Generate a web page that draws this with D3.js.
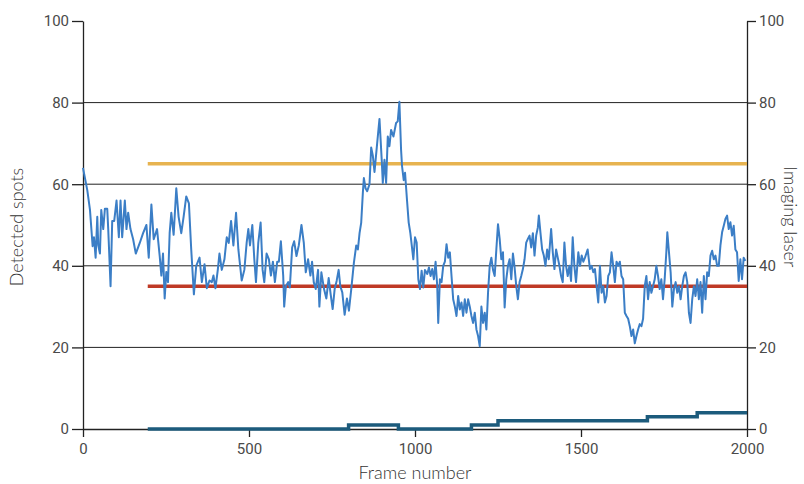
<!DOCTYPE html>
<html>
<head>
<meta charset="utf-8">
<script src="https://cdn.jsdelivr.net/npm/d3@7"></script>
<style>
  body { margin: 0; background: #fff; }
  svg { display: block; }
</style>
</head>
<body>
<div id="chart"></div>
<script>
// Frame numbers and detected spot counts
const frames = [0,13,21,29,33,38,43,46,51,55,61,66,73,76,83,88,94,101,108,113,118,126,131,136,143,151,159,171,181,191,198,206,213,223,231,236,241,246,251,256,261,266,273,281,288,296,303,311,319,326,334,341,351,358,366,373,381,388,393,399,406,411,418,426,433,439,446,453,461,468,478,486,493,498,503,510,516,521,528,535,541,546,553,560,566,572,578,585,590,596,603,606,611,618,623,630,636,643,650,658,665,671,678,685,690,695,701,708,712,718,726,733,740,746,752,758,764,770,775,781,788,795,801,808,816,823,828,833,838,843,846,851,856,863,868,873,878,886,893,900,903,908,913,918,923,928,935,943,948,953,958,961,966,970,976,981,986,995,1000,1005,1010,1015,1020,1025,1030,1037,1042,1047,1052,1057,1062,1067,1070,1075,1080,1085,1090,1095,1100,1105,1110,1115,1120,1125,1130,1135,1140,1145,1150,1155,1160,1165,1170,1175,1180,1185,1190,1195,1200,1205,1210,1215,1220,1225,1230,1235,1240,1245,1250,1255,1260,1265,1270,1275,1280,1285,1290,1295,1300,1305,1310,1315,1320,1325,1330,1335,1340,1345,1350,1355,1360,1365,1370,1373,1378,1383,1388,1393,1398,1403,1410,1415,1420,1425,1430,1435,1440,1445,1450,1455,1460,1465,1470,1475,1480,1485,1492,1497,1502,1507,1512,1520,1527,1532,1537,1542,1547,1552,1557,1562,1567,1572,1577,1582,1587,1592,1597,1602,1607,1612,1617,1622,1627,1632,1637,1642,1647,1652,1657,1662,1667,1672,1677,1682,1687,1692,1697,1702,1707,1712,1717,1722,1727,1732,1737,1742,1747,1752,1757,1760,1765,1770,1775,1780,1785,1790,1795,1800,1805,1810,1815,1820,1825,1830,1835,1840,1845,1850,1855,1860,1865,1870,1875,1880,1885,1890,1895,1900,1905,1910,1915,1920,1925,1930,1935,1940,1945,1950,1955,1960,1965,1970,1975,1980,1985,1990,1995];
const spots = [64,58.5,53.7,44.8,47,42,52,45,43,53.7,49,54,54,49,35,51,51,56,47,56,47,56,49,53,49,46.5,43,45.6,48,50,42,55,46.5,49,42.4,37.6,43,32,38.5,36,48,53,47.6,59,52,48,52,57,55.3,44,33,40,42,36,40.4,34.5,36.4,36,37.6,34.5,39,43,39,41.6,47,45.6,51,45,53,44,36.4,39,45.7,49,45,50,41.6,36,45.7,50.6,39,36,43,41.6,37.6,41,36,41,41,46,37.6,30,35,36,34.7,44.5,46,42.4,45,50,45.7,38.4,41.6,37.6,41,36,34.3,39,30,38.4,34.3,32,37,33,29.4,34.3,36.3,39,35,33.5,28,32,29,34.3,40.8,45,44,48,50.6,58,61.5,59,58.3,60,69,67,63,70,76,65.6,60.3,66,60.3,71.7,69.3,73.3,71.7,75,75.4,80.2,68.5,64.4,61,62.8,56,50.6,48,41.6,47,45.7,36.7,34.3,38.8,34.7,39,38,39.6,37.5,39.2,36.7,41,35,26,36.7,36,40,41,45.3,42,43.3,37.5,31.8,30,27.7,32.6,29.3,31,27.7,31.8,28.5,31.8,30,27.7,26,28.5,24.4,22.8,20.3,30,26,28.5,24.4,33.4,40,42,39,37.5,44,50.2,46.6,41.6,43.3,29.8,36.7,40,41.6,36.7,43,39.6,35,31.8,36,37.5,39.2,41.6,45.7,46.6,47.4,44.5,48,42.5,47.4,49.4,52.3,48,44,42.5,40,44,41.6,49,43.3,39.2,44,42,40,37.5,36,45.7,40,37.5,40,36.3,47,40,36,43.3,40,42.5,41,42,44,39.2,40,38.4,39.2,35,31,40,33.4,35,31,32.6,37.5,38.4,43.3,40,36,41,40,41,37.5,36.7,28.5,27.7,27,25.2,22.8,24.4,21,22.8,24.4,25.7,25.2,27,35,37.5,31.8,36,33.4,35,36.7,40,37.5,34.3,36.7,31.8,36.7,43.3,48.2,43.3,38.4,30,34.3,36,33.4,35,31.8,35,37.5,38.4,36,28.5,26,31.8,35,32.6,36.7,31.8,36,28.5,37.5,31.8,38.4,37.5,42.5,43.7,41.6,42.5,40,40,45,48.2,49.8,51.5,52.3,49,50.7,47.4,49.8,44,43.3,36.3,41.6,36.7,42,41.2];

// Imaging laser steps (right axis)
const laserFrames = [195, 800, 950, 1170, 1250, 1700, 1850, 2000];
const laserLevels = [0, 1, 0, 1, 2, 3, 4, 4];

// Horizontal reference levels
const refStart = 195;
const refEnd = 2000;
const upperLevel = 65;
const lowerLevel = 35;

const xTicks = [0, 500, 1000, 1500, 2000];
const yTicks = [0, 20, 40, 60, 80, 100];
const gridTicks = [20, 40, 60, 80];

const width = 804, height = 484;
const margin = { top: 21, right: 57, bottom: 55, left: 83 };

const svg = d3.select("#chart").append("svg")
  .attr("width", width)
  .attr("height", height);

const x = d3.scaleLinear().domain([0, 2000]).range([margin.left, width - margin.right]);
const y = d3.scaleLinear().domain([0, 100]).range([height - margin.bottom, margin.top]);
const yRight = d3.scaleLinear().domain([0, 100]).range([height - margin.bottom, margin.top]);

// Gridlines
svg.append("g")
  .selectAll("line")
  .data(gridTicks)
  .join("line")
  .attr("x1", x(0)).attr("x2", x(2000))
  .attr("y1", d => y(d)).attr("y2", d => y(d))
  .attr("stroke", "#222")
  .attr("stroke-width", 1);

// Axes
const tickFont = "Roboto, 'Open Sans', sans-serif";

const styleAxis = g => {
  g.selectAll("path.domain").attr("stroke", "#222").attr("stroke-width", 1.3);
  g.selectAll(".tick line").attr("stroke", "#222").attr("stroke-width", 1.3);
  g.selectAll(".tick text")
    .attr("fill", "#4a4a4a")
    .style("font-family", tickFont)
    .style("font-size", "15px");
};

svg.append("g")
  .attr("transform", `translate(0,${height - margin.bottom})`)
  .call(d3.axisBottom(x).tickValues(xTicks).tickFormat(d3.format("d"))
    .tickSize(8).tickPadding(6).tickSizeOuter(0))
  .call(styleAxis);

svg.append("g")
  .attr("transform", `translate(${margin.left},0)`)
  .call(d3.axisLeft(y).tickValues(yTicks).tickSize(11).tickPadding(3).tickSizeOuter(0))
  .call(styleAxis);

svg.append("g")
  .attr("transform", `translate(${width - margin.right},0)`)
  .call(d3.axisRight(yRight).tickValues(yTicks).tickSize(9).tickPadding(3).tickSizeOuter(0))
  .call(styleAxis);

// Reference lines
const refs = [
  { level: upperLevel, color: "#e7b350" },
  { level: lowerLevel, color: "#bf3a26" }
];
svg.append("g")
  .selectAll("line")
  .data(refs)
  .join("line")
  .attr("x1", x(refStart)).attr("x2", x(refEnd))
  .attr("y1", d => y(d.level)).attr("y2", d => y(d.level))
  .attr("stroke", d => d.color)
  .attr("stroke-width", 3.5);

// Detected spots trace
const spotData = frames.map((f, i) => ({ f, v: spots[i] }));
svg.append("path")
  .datum(spotData)
  .attr("fill", "none")
  .attr("stroke", "#3b7ec6")
  .attr("stroke-width", 2)
  .attr("stroke-linejoin", "round")
  .attr("d", d3.line().x(d => x(d.f)).y(d => y(d.v)));

// Imaging laser step line
const laserData = laserFrames.map((f, i) => ({ f, v: laserLevels[i] }));
svg.append("path")
  .datum(laserData)
  .attr("fill", "none")
  .attr("stroke", "#1c5b7c")
  .attr("stroke-width", 3.5)
  .attr("d", d3.line().curve(d3.curveStepAfter).x(d => x(d.f)).y(d => yRight(d.v)));

// Axis titles
const titleFont = "Lato, 'Open Sans', sans-serif";

const addTitle = (transform, label) => svg.append("text")
  .attr("transform", transform)
  .attr("text-anchor", "middle")
  .attr("fill", "#333")
  .style("font-family", titleFont)
  .style("font-weight", 300)
  .style("font-size", "18px")
  .text(label);

addTitle(`translate(${(x(0) + x(2000)) / 2},479)`, "Frame number");
addTitle(`translate(23,${y(50) + 2}) rotate(-90)`, "Detected spots");
addTitle(`translate(784,${y(52)}) rotate(90)`, "Imaging laser");
</script>
</body>
</html>
